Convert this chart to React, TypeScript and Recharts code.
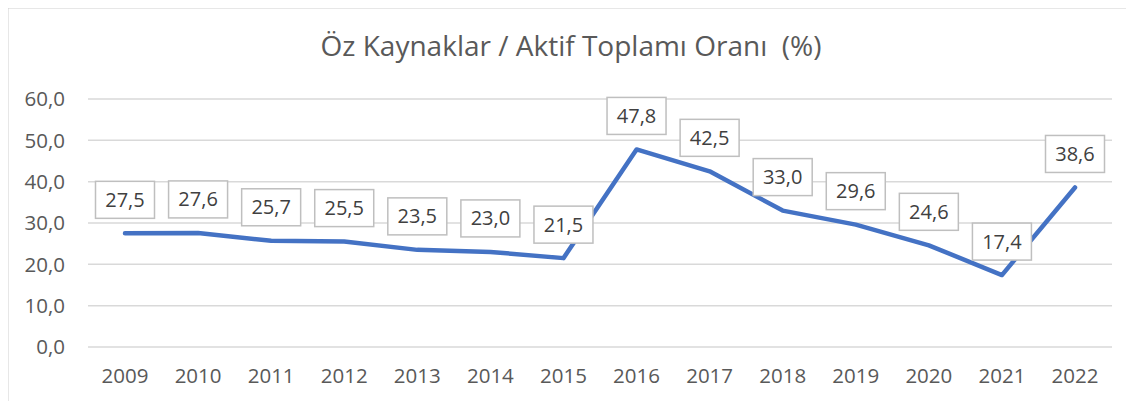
import { LineChart, Line, XAxis, YAxis, CartesianGrid, LabelList } from "recharts";

const years = ["2009", "2010", "2011", "2012", "2013", "2014", "2015", "2016", "2017", "2018", "2019", "2020", "2021", "2022"];
const ratios = [27.5, 27.6, 25.7, 25.5, 23.5, 23.0, 21.5, 47.8, 42.5, 33.0, 29.6, 24.6, 17.4, 38.6];
const yTicks = [0, 10, 20, 30, 40, 50, 60];

const data = years.map((year, i) => ({ year, value: ratios[i] }));

const fmt = (v: number) => v.toFixed(1).replace(".", ",");
const font = "'Open Sans', 'Noto Sans', sans-serif";

// boxed data label sitting above each point
const BoxLabel = (props: any) => {
  const { x, y, value } = props;
  const w = 59;
  const h = 37;
  const top = y - 15 - h;
  return (
    <g>
      <rect x={x - w / 2} y={top} width={w} height={h} fill="#fff" stroke="#BFBFBF" strokeWidth={1.5} />
      <text x={x} y={top + h / 2 + 7} textAnchor="middle" fontSize={20} fill="#404040" fontFamily={font}>
        {fmt(value)}
      </text>
    </g>
  );
};

export default function App() {
  return (
    <div style={{ position: "relative", width: 1134, height: 401, margin: "-8px 0 0 -8px", background: "#fff" }}>
      <LineChart width={1134} height={401} data={data} margin={{ top: 99, right: 22, left: 0, bottom: 0 }}>
        {/* chart frame, only top and left edges in view */}
        <rect x={7} y={7} width={1200} height={500} fill="none" stroke="#D0D0D0" strokeWidth={3} />
        <text
          x={571}
          y={56}
          textAnchor="middle"
          fontSize={28}
          fill="#595959"
          fontFamily={font}
          style={{ whiteSpace: "pre" }}
        >
          {"Öz Kaynaklar / Aktif Toplamı Oranı  (%)"}
        </text>
        <CartesianGrid vertical={false} stroke="#D9D9D9" strokeWidth={1.5} />
        <XAxis
          dataKey="year"
          axisLine={false}
          tickLine={false}
          tickSize={0}
          tickMargin={21}
          height={54}
          interval={0}
          padding={{ left: 37, right: 37 }}
          tick={{ fontSize: 20.5, fill: "#595959", fontFamily: font }}
        />
        <YAxis
          domain={[0, 60]}
          ticks={yTicks}
          width={88}
          axisLine={false}
          tickLine={false}
          tickSize={0}
          tickMargin={23}
          tickFormatter={fmt}
          tick={{ fontSize: 20.5, fill: "#595959", fontFamily: font }}
        />
        <Line
          type="linear"
          dataKey="value"
          stroke="#4472C4"
          strokeWidth={4.5}
          strokeLinecap="round"
          strokeLinejoin="round"
          dot={false}
          isAnimationActive={false}
        >
          <LabelList dataKey="value" content={BoxLabel} />
        </Line>
      </LineChart>
    </div>
  );
}
